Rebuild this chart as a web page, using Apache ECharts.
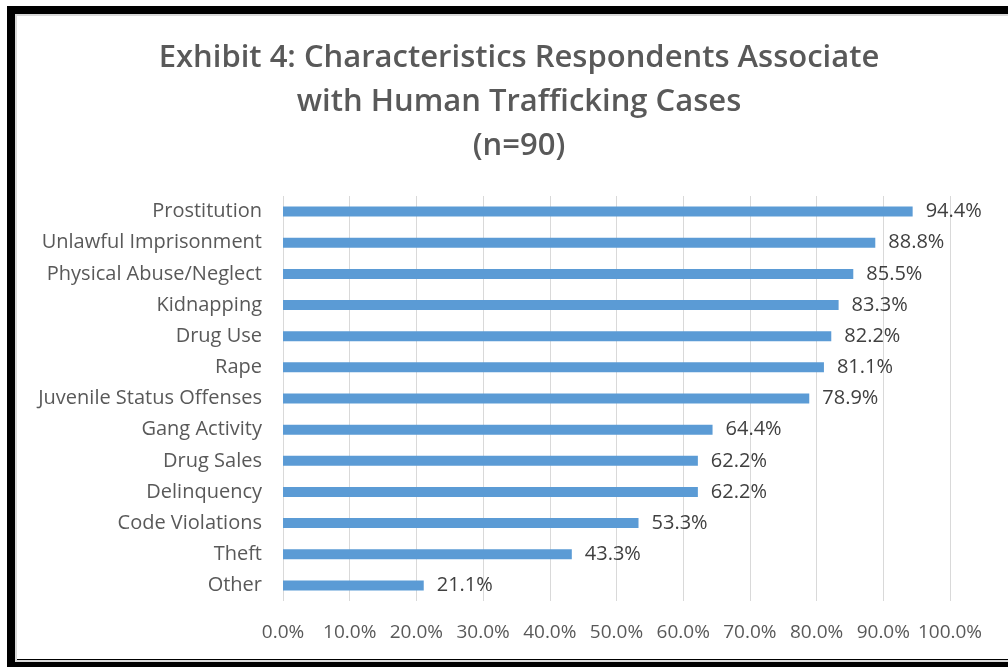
<!DOCTYPE html>
<html>
<head>
<meta charset="utf-8">
<script src="https://cdn.jsdelivr.net/npm/echarts@6/dist/echarts.min.js"></script>
<style>
  html, body { margin: 0; padding: 0; background: #fff; }
  #wrap { position: relative; width: 1008px; height: 667px; overflow: hidden; background: #fff; }
  #chart { position: absolute; left: 0; top: 0; width: 1008px; height: 667px; }
  #frame { position: absolute; left: 7px; top: 6px; width: 1100px; height: 661px; box-sizing: border-box;
           border: 8px solid #000; border-right: none; pointer-events: none; }
  #frame2 { position: absolute; left: 15px; top: 14px; width: 1100px; height: 648px; box-sizing: border-box;
           border: 2px solid #d9d9d9; border-right: none; pointer-events: none; }
</style>
</head>
<body>
<div id="wrap">
  <div id="chart"></div>
  <div id="frame"></div>
  <div id="frame2"></div>
</div>
<script>
const titleText = 'Exhibit 4: Characteristics Respondents Associate\nwith Human Trafficking Cases\n(n=90)';
const categories = ['Prostitution', 'Unlawful Imprisonment', 'Physical Abuse/Neglect', 'Kidnapping', 'Drug Use', 'Rape',
  'Juvenile Status Offenses', 'Gang Activity', 'Drug Sales', 'Delinquency', 'Code Violations', 'Theft', 'Other'];
const values = [94.4, 88.8, 85.5, 83.3, 82.2, 81.1, 78.9, 64.4, 62.2, 62.2, 53.3, 43.3, 21.1];
const xMin = 0, xMax = 100, xStep = 10;

const chart = echarts.init(document.getElementById('chart'));
chart.setOption({
  animation: false,
  title: {
    text: titleText,
    left: 514,
    top: 31,
    textAlign: 'center',
    textStyle: { fontFamily: 'Open Sans', fontWeight: 600, fontSize: 31, color: '#595959', lineHeight: 44 }
  },
  grid: { left: 283, right: 58, top: 196, bottom: 66, containLabel: false },
  xAxis: {
    type: 'value', min: xMin, max: xMax, interval: xStep,
    axisLine: { show: false }, axisTick: { show: false },
    splitLine: { show: true, lineStyle: { color: '#d9d9d9', width: 1 } },
    axisLabel: { formatter: v => v.toFixed(1) + '%', fontFamily: 'Open Sans', fontSize: 19, color: '#595959', margin: 22 }
  },
  yAxis: {
    type: 'category', data: categories, inverse: true,
    axisLine: { show: false }, axisTick: { show: false },
    axisLabel: { fontFamily: 'Open Sans', fontSize: 20, color: '#595959', margin: 21 }
  },
  series: [{
    type: 'bar', data: values, barWidth: 10,
    itemStyle: { color: '#5B9BD5' },
    label: { show: true, position: 'right', distance: 13, formatter: p => p.value.toFixed(1) + '%',
             fontFamily: 'Open Sans', fontSize: 20, color: '#404040' }
  }]
});
</script>
</body>
</html>
